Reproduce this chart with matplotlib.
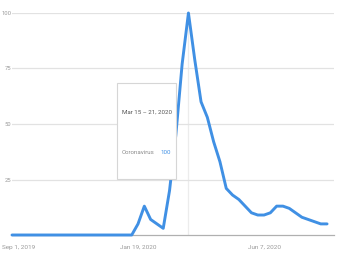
import matplotlib
matplotlib.use("Agg")
import matplotlib.pyplot as plt
import matplotlib.dates as mdates
import matplotlib.transforms as mtransforms
from matplotlib.patches import Rectangle
import pandas as pd

# weekly interest for "Coronavirus", Sep 1 2019 .. Aug 16 2020
weeks = pd.date_range("2019-09-01", periods=51, freq="W-SUN")
interest = [0] * 20 + [5, 13, 7, 5, 3, 20, 45, 77, 100, 79, 60, 53, 42, 33, 21,
                       18, 16, 13, 10, 9, 9, 10, 13, 13, 12, 10, 8, 7, 6, 5, 5]
y_ticks = [25, 50, 75, 100]
x_tick_dates = ["2019-09-01", "2020-01-19", "2020-06-07"]
x_tick_labels = ["Sep 1, 2019", "Jan 19, 2020", "Jun 7, 2020"]
hover_week = "2020-03-15"
tip_title = "Mar 15 \u2013 21, 2020"
tip_term = "Coronavirus"
tip_value = "100"

plt.rcParams["font.family"] = ["Roboto", "DejaVu Sans"]
W, H = 337, 262
fig = plt.figure(figsize=(W / 100, H / 100), dpi=100)
ax = fig.add_axes([12 / W, (H - 235) / H, (334 - 12) / W, (235 - 13) / H])

blue = "#4090e4"
ax.plot(weeks, interest, color=blue, lw=2.1, clip_on=False, zorder=3,
        solid_joinstyle="round", solid_capstyle="round")

ax.set_ylim(0, 100)
start = pd.Timestamp("2019-09-01")
ax.set_xlim(start, start + pd.Timedelta(weeks=51.1))

ax.set_yticks(y_ticks)
ax.set_yticklabels([str(v) for v in y_ticks])
ax.grid(axis="y", color="#e2e2e2", lw=0.9)
ax.set_xticks([mdates.date2num(pd.Timestamp(d)) for d in x_tick_dates])
ax.set_xticklabels(x_tick_labels)
ax.tick_params(axis="both", length=0, colors="#9a9a9a")
ax.tick_params(axis="x", pad=7, labelsize=4.6)
ax.tick_params(axis="y", pad=0.5, labelsize=4.2)

# first date label starts at the left edge of the figure
first = ax.get_xticklabels()[0]
first.set_horizontalalignment("left")
first.set_transform(first.get_transform() +
                    mtransforms.ScaledTranslation(-10 / 100, 0, fig.dpi_scale_trans))

for s in ["top", "right", "left"]:
    ax.spines[s].set_visible(False)
ax.spines["bottom"].set_color("#b0b0b0")
ax.spines["bottom"].set_linewidth(0.9)

# hover line
ax.axvline(pd.Timestamp(hover_week), color="#ececec", lw=0.9, zorder=1)

# tooltip
bx0, by0, bx1, by1 = 117, 83, 176, 179
fig.add_artist(Rectangle((bx0 / W, (H - by1) / H), (bx1 - bx0) / W, (by1 - by0) / H,
                         transform=fig.transFigure, facecolor="white",
                         edgecolor="#d6d6d6", lw=0.8, zorder=5))
fig.text(122 / W, (H - 112) / H, tip_title, fontsize=4.4, color="#555555",
         va="center", ha="left", zorder=6)
fig.text(122 / W, (H - 152) / H, tip_term, fontsize=4.4, color="#8a8a8a",
         va="center", ha="left", zorder=6)
fig.text(160 / W, (H - 152) / H, tip_value, fontsize=4.4, color=blue,
         va="center", ha="left", zorder=6)

fig.savefig("out.png", dpi=100)
